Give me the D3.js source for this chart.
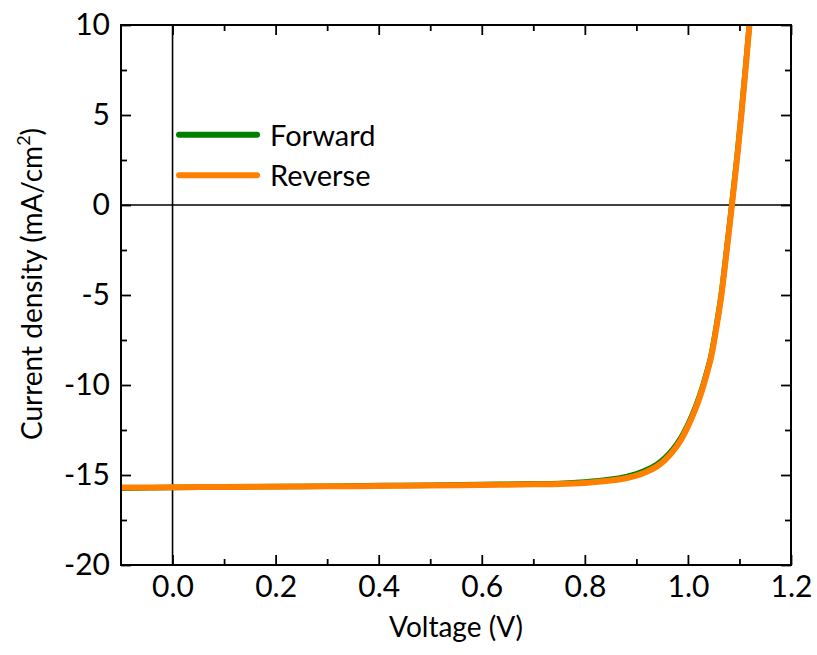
<!DOCTYPE html>
<html>
<head>
<meta charset="utf-8">
<script src="https://cdn.jsdelivr.net/npm/d3@7"></script>
<style>
  body { margin: 0; background: #fff; }
  svg text { font-family: Lato, "Open Sans", sans-serif; fill: #000; }
</style>
</head>
<body>
<div id="jv-chart"></div>
<script>

// ------------------------ data ------------------------------

var voltage_fwd = [-0.1, 0.0, 0.1, 0.2, 0.3, 0.4, 0.5, 0.6, 0.7, 0.75, 0.8, 0.85, 0.88, 0.9, 0.92, 0.94, 0.955, 0.97, 0.985, 1.0, 1.015, 1.025, 1.035, 1.045, 1.055, 1.065, 1.075, 1.085, 1.095, 1.105, 1.12, 1.13];
var current_fwd = [-15.73, -15.70, -15.67, -15.645, -15.62, -15.59, -15.565, -15.53, -15.49, -15.47, -15.39, -15.24, -15.09, -14.94, -14.71, -14.40, -14.06, -13.60, -13.0, -12.19, -11.19, -10.4, -9.45, -8.35, -6.75, -4.9, -2.5, 0.0, 2.6, 5.5, 10.3, 13.7];

var voltage_rev = [-0.1, 0.0, 0.1, 0.2, 0.3, 0.4, 0.5, 0.6, 0.7, 0.75, 0.8, 0.85, 0.88, 0.9, 0.92, 0.94, 0.955, 0.97, 0.985, 1.0, 1.015, 1.025, 1.035, 1.045, 1.055, 1.065, 1.075, 1.085, 1.095, 1.105, 1.12, 1.13];
var current_rev = [-15.70, -15.68, -15.66, -15.65, -15.63, -15.61, -15.58, -15.555, -15.52, -15.50, -15.44, -15.31, -15.18, -15.04, -14.82, -14.52, -14.18, -13.72, -13.12, -12.3, -11.3, -10.5, -9.55, -8.45, -6.85, -5.0, -2.6, -0.1, 2.5, 5.4, 10.2, 13.6];

var series_names = ["Forward", "Reverse"];
var series_colours = ["#008000", "#ff8000"];

var x_ticks_major = [0.0, 0.2, 0.4, 0.6, 0.8, 1.0, 1.2];
var x_ticks_minor = [0.1, 0.3, 0.5, 0.7, 0.9, 1.1];
var y_ticks_major = [-20, -15, -10, -5, 0, 5, 10];
var y_ticks_minor = [-17.5, -12.5, -7.5, -2.5, 2.5, 7.5];


// ------------------------ #jv-chart ------------------------------

var build_jvChart = function() {

	var svgWidth = 817, svgHeight = 655;
	var margin = { top: 25, right: 26, bottom: 90, left: 121 },
		width = svgWidth - margin.left - margin.right,
		height = svgHeight - margin.top - margin.bottom;

	// set the ranges
	var x = d3.scaleLinear().domain([-0.1, 1.2]).range([0, width]);
	var y = d3.scaleLinear().domain([-20, 10]).range([height, 0]);

	var svg = d3.select("#jv-chart").append("svg")
			.attr("width", svgWidth)
			.attr("height", svgHeight)
				.append("g")
				.attr("transform", "translate(" + margin.left + "," + margin.top + ")");

	var plotArea = svg.append("g");

	// zero lines
	plotArea.append("line")
		.attr("x1", x(0)).attr("x2", x(0))
		.attr("y1", 0).attr("y2", height)
		.attr("stroke", "#000").attr("stroke-width", 1.6);
	plotArea.append("line")
		.attr("x1", 0).attr("x2", width)
		.attr("y1", y(0)).attr("y2", y(0))
		.attr("stroke", "#000").attr("stroke-width", 1.6);

	// curves
	var line = d3.line()
		.x(function(d) { return x(d[0]); })
		.y(function(d) { return y(d[1]); })
		.curve(d3.curveCatmullRom.alpha(0.5));

	var curves = [
		d3.zip(voltage_fwd, current_fwd),
		d3.zip(voltage_rev, current_rev)
	];

	svg.append("clipPath").attr("id", "plot-clip")
		.append("rect").attr("width", width).attr("height", height);

	plotArea.append("g").attr("clip-path", "url(#plot-clip)")
		.selectAll(".curve")
		.data(curves)
		.enter().append("path")
			.attr("class", "curve")
			.attr("d", line)
			.attr("fill", "none")
			.attr("stroke", function(d, i) { return series_colours[i]; })
			.attr("stroke-width", function(d, i) { return i == 0 ? 5.5 : 6; })
			.attr("stroke-linejoin", "round");

	// axes: inward ticks on all four sides
	var fmt = function(d) { return d3.format(".1f")(d); };
	var fmtY = function(d) { return "" + d; };

	svg.append("g")
			.attr("transform", "translate(0," + height + ")")
			.call(d3.axisBottom(x).tickValues(x_ticks_major).tickSize(-10).tickPadding(11).tickFormat(fmt));
	svg.append("g")
			.attr("transform", "translate(0," + height + ")")
			.call(d3.axisBottom(x).tickValues(x_ticks_minor).tickSize(-6).tickFormat(""));
	svg.append("g")
			.call(d3.axisTop(x).tickValues(x_ticks_major).tickSize(-10).tickFormat(""));
	svg.append("g")
			.call(d3.axisTop(x).tickValues(x_ticks_minor).tickSize(-6).tickFormat(""));

	svg.append("g")
			.call(d3.axisLeft(y).tickValues(y_ticks_major).tickSize(-10).tickPadding(11).tickFormat(fmtY));
	svg.append("g")
			.call(d3.axisLeft(y).tickValues(y_ticks_minor).tickSize(-6).tickFormat(""));
	svg.append("g")
			.attr("transform", "translate(" + width + ",0)")
			.call(d3.axisRight(y).tickValues(y_ticks_major).tickSize(-10).tickFormat(""));
	svg.append("g")
			.attr("transform", "translate(" + width + ",0)")
			.call(d3.axisRight(y).tickValues(y_ticks_minor).tickSize(-6).tickFormat(""));

	svg.selectAll(".domain").remove();
	svg.selectAll(".tick line").attr("stroke", "#000").attr("stroke-width", 1.8);
	svg.selectAll(".tick text").attr("font-size", 30).attr("font-family", "Lato, sans-serif").attr("fill", "#000");

	// frame
	svg.append("rect")
		.attr("width", width).attr("height", height)
		.attr("fill", "none").attr("stroke", "#000").attr("stroke-width", 2);

	// axis titles
	svg.append("text")
		.attr("x", width / 2)
		.attr("y", height + 72)
		.attr("text-anchor", "middle")
		.attr("font-size", 28)
		.text("Voltage (V)");

	var yTitle = svg.append("text")
		.attr("transform", "translate(" + (-79) + "," + (height / 2 - 11) + ") rotate(-90)")
		.attr("text-anchor", "middle")
		.attr("font-size", 28);
	yTitle.append("tspan").text("Current density (mA/cm");
	yTitle.append("tspan").attr("font-size", 18).attr("dy", -12).text("2");
	yTitle.append("tspan").attr("dy", 12).text(")");

	// legend
	var legend = svg.append("g").selectAll(".legend")
			.data(series_names)
			.enter().append("g")
			.attr("class", "legend")
			.attr("transform", function(d, i) { return "translate(" + (x(0.0126)) + "," + (y(3.9) + i * 40.5) + ")"; });
	legend.append("line")
		.attr("x1", 0).attr("x2", 78)
		.attr("stroke", function(d, i) { return series_colours[i]; })
		.attr("stroke-width", 6)
		.attr("stroke-linecap", "round");
	legend.append("text")
		.attr("x", 91)
		.attr("y", 11)
		.attr("font-size", 29)
		.text(function(d) { return d; });

}

build_jvChart();
</script>
</body>
</html>
